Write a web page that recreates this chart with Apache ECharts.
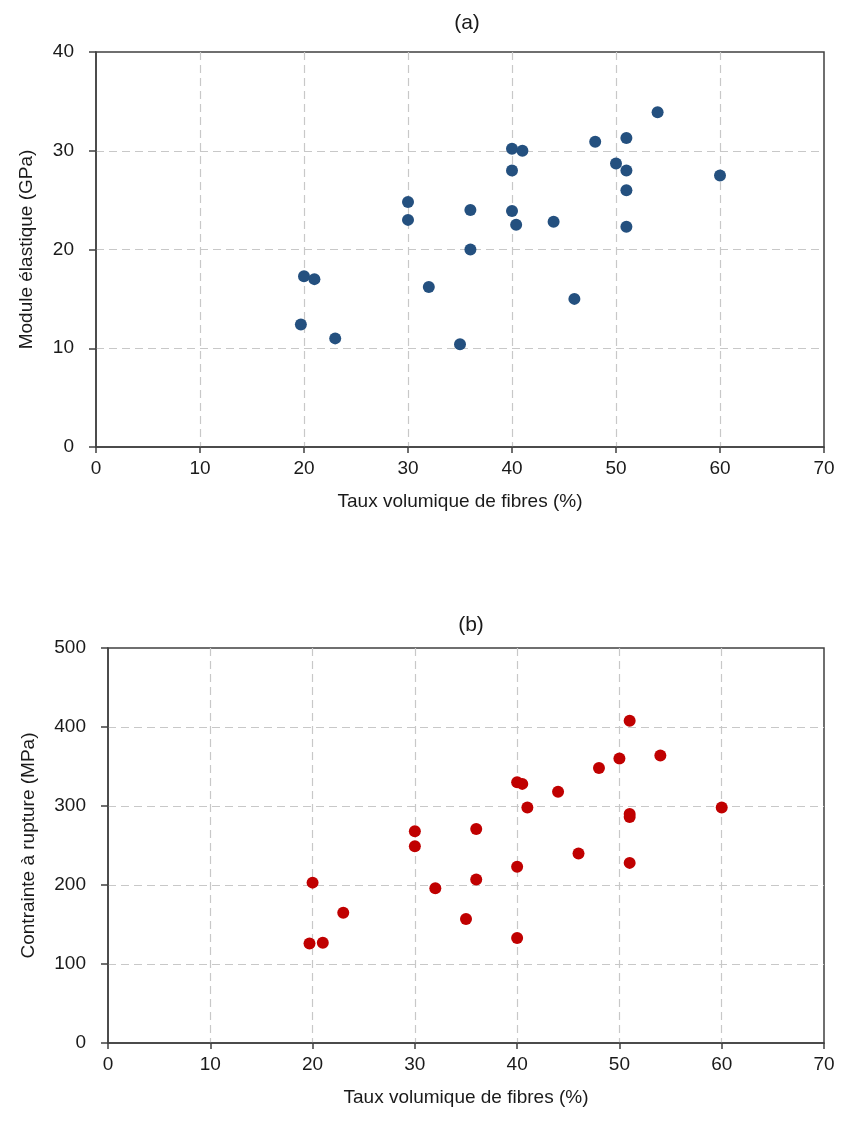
<!DOCTYPE html>
<html>
<head>
<meta charset="utf-8">
<title>Module et contrainte vs taux de fibres</title>
<script src="https://cdn.jsdelivr.net/npm/echarts@6/dist/echarts.min.js"></script>
<style>
  html, body { margin: 0; padding: 0; background: #fff; }
  #chart { width: 842px; height: 1123px; }
</style>
</head>
<body>
<div id="chart"></div>
<script>
// (a) module élastique
var fibresA = [54, 48, 51, 40, 41, 50, 51, 40, 51, 30, 30, 36, 40, 40.4, 44, 51, 36, 20, 21, 32, 46, 19.7, 23, 35, 60];
var moduleA = [33.9, 30.9, 31.3, 30.2, 30, 28.7, 28, 28, 26, 24.8, 23, 24, 23.9, 22.5, 22.8, 22.3, 20, 17.3, 17, 16.2, 15, 12.4, 11, 10.4, 27.5];

// (b) contrainte à rupture
var fibresB = [51, 54, 50, 48, 40, 40.5, 44, 41, 51, 51, 30, 36, 30, 46, 51, 40, 36, 20, 32, 23, 35, 40, 19.7, 21, 60];
var contrainteB = [408, 364, 360, 348, 330, 328, 318, 298, 290, 286, 268, 271, 249, 240, 228, 223, 207, 203, 196, 165, 157, 133, 126, 127, 298];

var font = "'Liberation Sans', Arial, sans-serif";
var axisColor = '#404040';
var gridDash = { color: '#c8c8c8', type: [8, 5], width: 1.2 };

function pairs(xs, ys) {
    var out = [];
    for (var i = 0; i < xs.length; i++) {
        out.push([xs[i], ys[i]]);
    }
    return out;
}

function xAxisFor(gridIndex) {
    return {
        gridIndex: gridIndex,
        type: 'value',
        min: 0, max: 70, interval: 10,
        name: 'Taux volumique de fibres (%)',
        nameLocation: 'middle',
        nameGap: 45,
        nameTextStyle: { fontFamily: font, fontSize: 19, color: '#1a1a1a' },
        axisLine: { onZero: false, lineStyle: { color: axisColor, width: 1.5 } },
        axisTick: { show: true, length: 6, lineStyle: { color: axisColor, width: 1.5 } },
        axisLabel: { fontFamily: font, fontSize: 19, color: '#1a1a1a', margin: 12 },
        splitLine: { show: true, showMinLine: false, showMaxLine: false, lineStyle: gridDash }
    };
}

function yAxisFor(gridIndex, max, step, name, gap) {
    return {
        gridIndex: gridIndex,
        type: 'value',
        min: 0, max: max, interval: step,
        name: name,
        nameLocation: 'middle',
        nameGap: gap,
        nameTextStyle: { fontFamily: font, fontSize: 19, color: '#1a1a1a' },
        axisLine: { show: true, lineStyle: { color: axisColor, width: 1.5 } },
        axisTick: { show: true, length: 7, lineStyle: { color: axisColor, width: 1.5 } },
        axisLabel: { fontFamily: font, fontSize: 19, color: '#1a1a1a', margin: 22 },
        splitLine: { show: true, showMinLine: false, showMaxLine: false, lineStyle: gridDash }
    };
}

var chart = echarts.init(document.getElementById('chart'), null, { renderer: 'canvas' });

var option = {
    backgroundColor: '#fff',
    animation: false,
    title: [
        { text: '(a)', left: 462, top: 8, textAlign: 'center',
          textStyle: { fontFamily: font, fontSize: 21, fontWeight: 'normal', color: '#1a1a1a' } },
        { text: '(b)', left: 466, top: 610, textAlign: 'center',
          textStyle: { fontFamily: font, fontSize: 21, fontWeight: 'normal', color: '#1a1a1a' } }
    ],
    grid: [
        { left: 96, right: 18, top: 52, height: 395, show: true, borderColor: axisColor, borderWidth: 1.5 },
        { left: 108, right: 18, top: 648, height: 395, show: true, borderColor: axisColor, borderWidth: 1.5 }
    ],
    xAxis: [xAxisFor(0), xAxisFor(1)],
    yAxis: [
        yAxisFor(0, 40, 10, 'Module élastique (GPa)', 60),
        yAxisFor(1, 500, 100, 'Contrainte à rupture (MPa)', 70)
    ],
    series: [
        {
            type: 'scatter', xAxisIndex: 0, yAxisIndex: 0,
            symbolSize: 12,
            itemStyle: { color: '#24507f', opacity: 1 },
            data: pairs(fibresA, moduleA)
        },
        {
            type: 'scatter', xAxisIndex: 1, yAxisIndex: 1,
            symbolSize: 12,
            itemStyle: { color: '#c00000', opacity: 1 },
            data: pairs(fibresB, contrainteB)
        }
    ]
};

chart.setOption(option);
</script>
</body>
</html>
